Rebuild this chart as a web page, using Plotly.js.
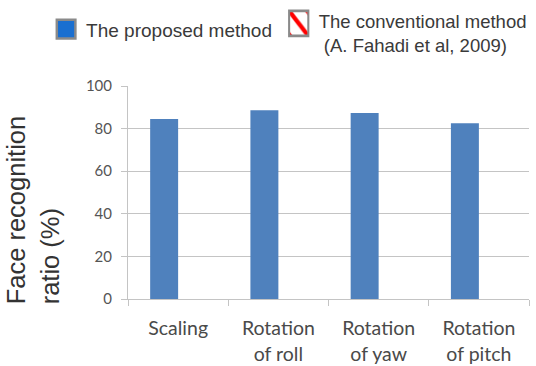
<!DOCTYPE html>
<html>
<head>
<meta charset="utf-8">
<script src="https://cdn.plot.ly/plotly-3.0.1.min.js"></script>
<style>
  html, body { margin: 0; padding: 0; background: #ffffff; }
  #chart { width: 536px; height: 366px; }
</style>
</head>
<body>
<div id="chart"></div>
<script>
// Face recognition ratio for each pose variation
const categories = ['Scaling', 'Rotation<br>of roll', 'Rotation<br>of yaw', 'Rotation<br>of pitch'];
const proposedValues = [84.5, 88.6, 87.3, 82.5];
const conventionalValues = [null, null, null, null];
const seriesNames = ['The proposed method', 'The conventional method<br>&nbsp;(A. Fahadi et al, 2009)'];
const yTickValues = [0, 20, 40, 60, 80, 100];
const yTitle = 'Face recognition<br>ratio (%)';

const gridGray = '#c4c4c4';
const legendFamily = 'Liberation Sans, Arial, sans-serif';

const traces = [
  {
    type: 'bar',
    name: seriesNames[0],
    legend: 'legend',
    x: categories,
    y: proposedValues,
    marker: { color: '#4f81bd', line: { width: 0 } }
  },
  {
    type: 'bar',
    name: seriesNames[1],
    legend: 'legend2',
    x: categories,
    y: conventionalValues,
    marker: {
      color: '#ffffff',
      line: { color: '#8a8a8a', width: 1.5 },
      pattern: { shape: '\\', fgcolor: '#ff0000', bgcolor: '#ffffff', size: 12, solidity: 0.3 }
    }
  }
];

const legendBase = {
  orientation: 'h',
  xref: 'container', yref: 'container',
  xanchor: 'left', yanchor: 'top',
  valign: 'middle',
  itemclick: false,
  bgcolor: 'rgba(0,0,0,0)'
};

const layout = {
  width: 536,
  height: 366,
  paper_bgcolor: '#ffffff',
  plot_bgcolor: '#ffffff',
  margin: { l: 128, r: 7, t: 86, b: 67 },
  barmode: 'group',
  bargap: 0.442,
  bargroupgap: 0,
  showlegend: true,
  legend: Object.assign({}, legendBase, {
    x: 0.086, y: 0.972,
    font: { family: legendFamily, size: 19, color: '#3a3a3a' }
  }),
  legend2: Object.assign({}, legendBase, {
    x: 0.52, y: 0.995,
    font: { family: legendFamily, size: 18.5, color: '#3a3a3a' }
  }),
  xaxis: {
    type: 'category',
    showline: true,
    linecolor: gridGray,
    linewidth: 1,
    ticks: 'outside',
    tickson: 'boundaries',
    ticklen: 6,
    tickcolor: gridGray,
    showgrid: false,
    ticklabelstandoff: 12,
    tickfont: { family: 'Lato, Open Sans, sans-serif', size: 19.5, color: '#4a4a4a' },
    fixedrange: true
  },
  yaxis: {
    range: [0, 100],
    tickvals: yTickValues,
    showline: true,
    linecolor: gridGray,
    linewidth: 1,
    ticks: 'outside',
    ticklen: 6,
    tickcolor: gridGray,
    showgrid: true,
    gridcolor: gridGray,
    gridwidth: 1,
    zeroline: false,
    ticklabelstandoff: 6,
    tickfont: { family: 'Lato, Open Sans, sans-serif', size: 15, color: '#555555' },
    fixedrange: true
  },
  annotations: [
    {
      text: yTitle,
      xref: 'paper', yref: 'paper',
      x: -0.236, y: 0.418,
      xanchor: 'center', yanchor: 'middle',
      textangle: -90,
      align: 'left',
      showarrow: false,
      font: { family: 'Liberation Sans, Arial, sans-serif', size: 25.5, color: '#333333' }
    }
  ]
};

// Larger legend swatches; the solid one gets a grey frame
const swatchStyles = {
  legend: { dy: 0, sx: 1.55, sy: 1.55, fill: '#1a6fd0', stroke: '#8a8a8a', width: 1.6 },
  legend2: { dy: -9, sx: 1.6, sy: 2.1, fill: null, stroke: '#8a8a8a', width: 1.3 }
};

function styleSwatches(gd) {
  Object.keys(swatchStyles).forEach(function (id) {
    const s = swatchStyles[id];
    gd.querySelectorAll('g.' + id + ' g.legendpoints path').forEach(function (p) {
      if (!p.hasAttribute('data-base-transform')) {
        p.setAttribute('data-base-transform', p.getAttribute('transform') || '');
      }
      const base = p.getAttribute('data-base-transform');
      p.setAttribute('transform', base + ' translate(0,' + s.dy + ') scale(' + s.sx + ',' + s.sy + ')');
      if (s.fill) p.style.fill = s.fill;
      p.style.stroke = s.stroke;
      p.style.strokeWidth = s.width + 'px';
    });
  });
}

Plotly.newPlot('chart', traces, layout, { displayModeBar: false, staticPlot: true }).then(function (gd) {
  styleSwatches(gd);
  gd.on('plotly_afterplot', function () { styleSwatches(gd); });
  setTimeout(function () { styleSwatches(gd); }, 50);
});
</script>
</body>
</html>
